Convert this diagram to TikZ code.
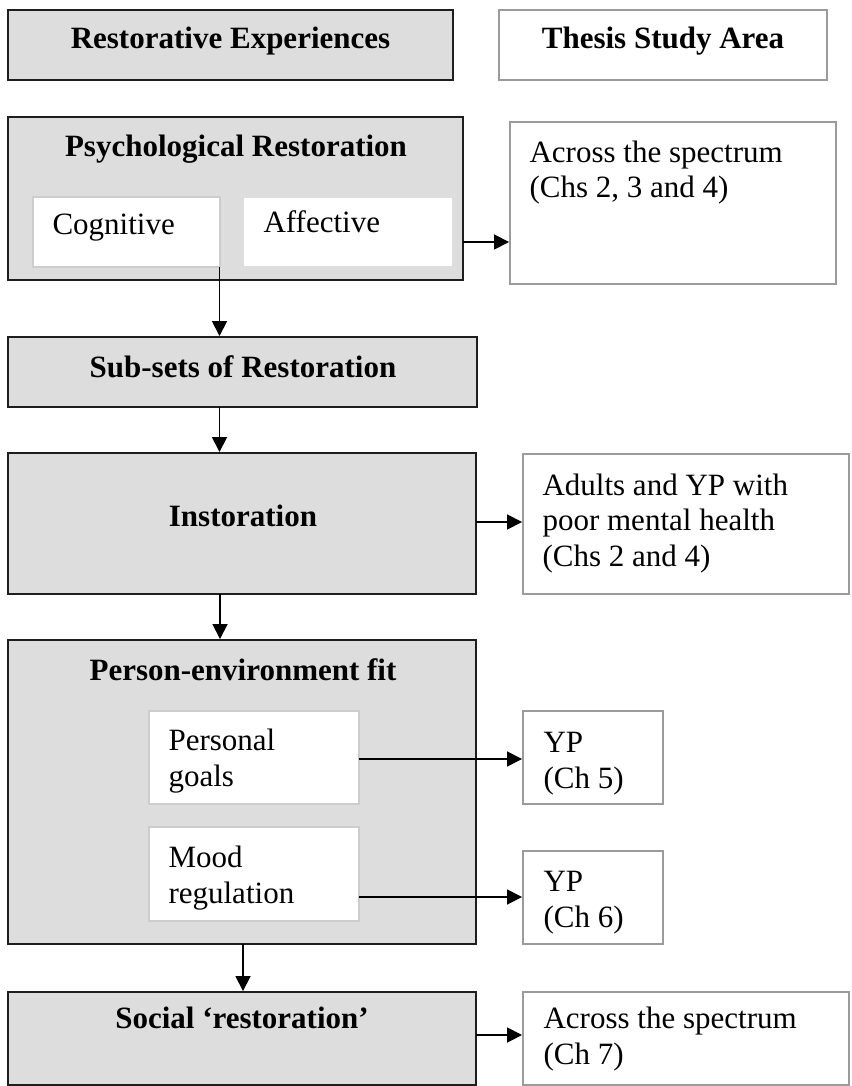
\documentclass[tikz,border=0pt]{standalone}
\usepackage{fontspec}
\setmainfont{Liberation Serif}
\usetikzlibrary{arrows.meta,fit}

\definecolor{boxgray}{RGB}{221,221,221}
\definecolor{darkedge}{RGB}{30,30,30}
\definecolor{lightedge}{RGB}{155,155,155}
\definecolor{paleedge}{RGB}{205,205,205}

\begin{document}
\begin{tikzpicture}[x=0.387pt,y=-0.387pt,
  graybox/.style={draw=darkedge, fill=boxgray, line width=0.75pt, inner sep=0pt},
  whitebox/.style={draw=lightedge, fill=white, line width=0.75pt, inner sep=0pt},
  innerbox/.style={draw=paleedge, fill=white, line width=0.75pt, inner sep=0pt},
  plainbox/.style={fill=white, inner sep=0pt},
  txt/.style={inner sep=0pt, font=\fontsize{12}{13.9}\selectfont},
  head/.style={txt, font=\fontsize{12}{13.9}\selectfont\bfseries, anchor=base},
  body/.style={txt, anchor=base west},
  link/.style={draw=black, line width=0.7pt, -{Triangle[length=5.8pt,width=5.8pt]}}]

\useasboundingbox (0,0) rectangle (851,1086);

% left column: restorative experiences
\node[graybox, fit={(8,10) (453,80)}] (exp) {};
\node[graybox, fit={(8,117) (463,280)}] (psych) {};
\node[innerbox, fit={(33,197) (220,267)}] (cog) {};
\node[plainbox, fit={(244,198) (452,266)}] (aff) {};
\node[graybox, fit={(8,337) (477,407)}] (subsets) {};
\node[graybox, fit={(8,453) (476,594)}] (inst) {};
\node[graybox, fit={(8,640) (476,944)}] (pe) {};
\node[innerbox, fit={(149,711) (359,804)}] (goals) {};
\node[innerbox, fit={(149,827) (359,921)}] (mood) {};
\node[graybox, fit={(8,992) (476,1085)}] (social) {};

% right column: thesis study area
\node[whitebox, fit={(499,10) (827,80)}] (thesis) {};
\node[whitebox, fit={(510,122) (836,284)}] (spec1) {};
\node[whitebox, fit={(523,454) (849,594)}] (adults) {};
\node[whitebox, fit={(523,711) (663,804)}] (yp5) {};
\node[whitebox, fit={(523,851) (663,944)}] (yp6) {};
\node[whitebox, fit={(523,992) (849,1085)}] (spec7) {};

% headings
\node[head] (t-exp) at (230.5,49) {Restorative Experiences};
\node[head] (t-thesis) at (663,49) {Thesis Study Area};
\node[head] (t-psych) at (236,157) {Psychological Restoration};
\node[head] (t-subsets) at (243,378) {Sub-sets of Restoration};
\node[head] (t-inst) at (243,527) {Instoration};
\node[head] (t-pe) at (243,680) {Person-environment fit};
\node[head] (t-social) at (242,1028) {Social `restoration'};

% body text
\node[body] (t-cog) at (52,235) {Cognitive};
\node[body] (t-aff) at (263,233) {Affective};
\node[body] (t-spec1a) at (529,163) {Across the spectrum};
\node[body] (t-spec1b) at (529,198) {(Chs 2, 3 and 4)};
\node[body] (t-adults-a) at (542,495) {Adults and YP with};
\node[body] (t-adults-b) at (542,531) {poor mental health};
\node[body] (t-adults-c) at (542,567) {(Chs 2 and 4)};
\node[body] (t-goals-a) at (168,750) {Personal};
\node[body] (t-goals-b) at (168,786) {goals};
\node[body] (t-mood-a) at (168,867) {Mood};
\node[body] (t-mood-b) at (168,903) {regulation};
\node[body] (t-yp5a) at (543,752) {YP};
\node[body] (t-yp5b) at (543,788) {(Ch 5)};
\node[body] (t-yp6a) at (543,891) {YP};
\node[body] (t-yp6b) at (543,927) {(Ch 6)};
\node[body] (t-spec7a) at (543,1028) {Across the spectrum};
\node[body] (t-spec7b) at (543,1064) {(Ch 7)};

% connector anchors
\coordinate (psych-out) at (463,242);
\coordinate (down1) at (219.5,267);
\coordinate (down2) at (219.5,407);
\coordinate (inst-out) at (476,522);
\coordinate (down3) at (220,594);
\coordinate (goals-out) at (359,759);
\coordinate (mood-out) at (359,897);
\coordinate (down4) at (243,944);
\coordinate (social-out) at (476,1035);

% connectors
\draw[link] (psych-out) -- (psych-out -| spec1.west);
\draw[link] (down1) -- (down1 |- subsets.north);
\draw[link] (down2) -- (down2 |- inst.north);
\draw[link] (inst-out) -- (inst-out -| adults.west);
\draw[link] (down3) -- (down3 |- pe.north);
\draw[link] (goals-out) -- (goals-out -| yp5.west);
\draw[link] (mood-out) -- (mood-out -| yp6.west);
\draw[link] (down4) -- (down4 |- social.north);
\draw[link] (social-out) -- (social-out -| spec7.west);

\end{tikzpicture}
\end{document}
